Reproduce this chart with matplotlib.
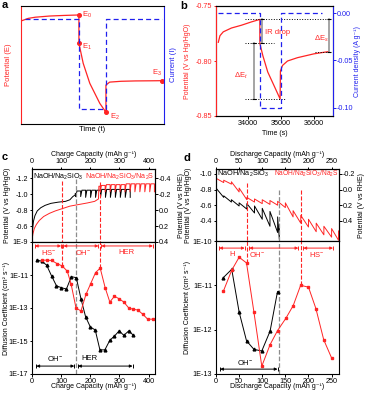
import math
import matplotlib.pyplot as plt
from matplotlib.ticker import FormatStrFormatter

plt.rcParams['font.family'] = ['Liberation Sans', 'DejaVu Sans']
plt.rcParams['mathtext.fontset'] = 'custom'
plt.rcParams['mathtext.rm'] = 'Liberation Sans'
plt.rcParams['mathtext.it'] = 'Liberation Sans:italic'
plt.rcParams['font.size'] = 5.0
plt.rcParams['axes.linewidth'] = 0.8
for ax_ in ('xtick', 'ytick'):
    plt.rcParams[ax_ + '.major.size'] = 1.8
    plt.rcParams[ax_ + '.major.width'] = 0.7
    plt.rcParams[ax_ + '.major.pad'] = 0.8
    plt.rcParams[ax_ + '.labelsize'] = 5.2

W, H = 367, 394
RED = '#FF2424'
BLUE = '#2020EE'
GRAY = '#8C8C8C'

# ---- panel a (schematic) ----
a_t = [0.05, 0.5, 1.0, 2.0, 3.0, 4.05, 4.05, 4.35, 4.81, 5.51, 5.94, 5.94, 6.2, 7.0, 8.0, 9.0, 9.84]
a_E = [8.75, 8.95, 9.05, 9.15, 9.2, 9.24, 6.84, 5.14, 3.45, 1.75, 0.99, 3.3, 3.55, 3.62, 3.65, 3.66, 3.67]
a_pt_t = [4.05, 4.05, 5.94, 9.84]
a_pt_E = [9.24, 6.84, 0.99, 3.67]
a_pt_lab = ['E$_0$', 'E$_1$', 'E$_2$', 'E$_3$']
a_I_t = [0.28, 4.05, 4.05, 5.94, 5.94, 9.84]
a_I = [8.87, 8.87, 1.25, 1.25, 8.87, 8.87]

# ---- panel b (one GITT step) ----
b_t = [33100, 33150, 33250, 33500, 33800, 34100, 34360, 34360, 34450, 34600, 34800, 34975,
       34985, 35050, 35200, 35500, 36000, 36430]
b_E = [-0.783, -0.777, -0.7735, -0.770, -0.7675, -0.7645, -0.7622, -0.784, -0.795, -0.810, -0.823, -0.8345,
       -0.809, -0.804, -0.800, -0.797, -0.7935, -0.7915]
b_It = [33100, 34350, 34350, 34990, 34990, 36240]
b_I = [0.0, 0.0, -0.1, -0.1, 0.0, 0.0]

# ---- panel c: charge GITT ----
cb_q0 = [0, 2, 5, 10, 18, 30, 45, 65, 90, 115, 130, 140, 148]
cb_E0 = [-0.43, -0.56, -0.66, -0.73, -0.79, -0.83, -0.86, -0.885, -0.9, -0.91, -0.93, -0.97, -0.99]
cb_q = [150, 167, 184, 201, 218, 235, 252, 269, 286, 303, 320, 337]
cb_top = [-1.01, -1.04, -1.05, -1.05, -1.05, -1.05, -1.06, -1.06, -1.06, -1.06, -1.06, -1.06]
cb_rest = [-0.97, -0.97, -0.96, -0.96, -0.96, -0.96, -0.96, -0.96, -0.96, -0.96, -0.96, -0.96]

cr_q0 = [0, 3, 8, 15, 25, 40, 60, 80, 105, 130, 160, 190, 215, 228]
cr_E0 = [-0.42, -0.5, -0.57, -0.62, -0.67, -0.72, -0.76, -0.79, -0.82, -0.85, -0.87, -0.89, -0.91, -0.94]
cr_q = [234, 251, 268, 285, 302, 319, 336, 353, 370, 387, 404, 420]
cr_top = [-1.10, -1.11, -1.12, -1.12, -1.12, -1.12, -1.13, -1.13, -1.13, -1.13, -1.13, -1.13]
cr_rest = [-1.03, -1.03, -1.03, -1.03, -1.03, -1.03, -1.03, -1.03, -1.03, -1.03, -1.03, -1.03]

cDb_q = [16, 33, 50, 67, 84, 101, 118, 135, 152, 168, 184, 200, 217, 233, 250, 267, 283, 299, 315, 332, 348]
cDb = [8.0e-11, 6.9e-11, 4.0e-11, 8.9e-12, 2.2e-12, 1.7e-12, 1.4e-12, 7.9e-12, 6.9e-12, 3.6e-13, 2.9e-14,
       7.2e-15, 4.6e-15, 2.9e-16, 2.9e-16, 1.1e-15, 2.0e-15, 4.1e-15, 2.2e-15, 4.1e-15, 2.2e-15]
cDr_q = [35, 50, 67, 87, 104, 121, 134, 151, 168, 185, 201, 218, 234, 251, 267, 283, 299, 315, 332, 348,
         363, 380, 397, 414]
cDr = [7.9e-11, 7.9e-11, 7.6e-11, 4.8e-11, 3.5e-11, 1.7e-11, 2.9e-12, 1.0e-13, 6.6e-14, 6.6e-13, 2.9e-12,
       1.4e-11, 2.6e-11, 1.7e-12, 2.3e-13, 5.2e-13, 3.6e-13, 2.3e-13, 1.0e-13, 8.3e-14, 7.6e-14, 4.2e-14,
       2.1e-14, 2.1e-14]

# ---- panel d: discharge GITT ----
db_q = [16.7, 33.3, 50, 66.7, 83.3, 100, 116.7, 133.3, 137]
db_end = [-0.70, -0.64, -0.59, -0.55, -0.50, -0.42, -0.33, -0.25, -0.16]
db_rest = [-0.72, -0.67, -0.63, -0.62, -0.59, -0.56, -0.52, -0.45, -0.35]
dr_q = [16.7, 33.3, 50, 66.7, 83.3, 100, 116.7, 133.3, 150, 166.7, 183.3, 200, 216.7, 233.3, 250, 265]
dr_end = [-0.89, -0.87, -0.77, -0.67, -0.64, -0.62, -0.61, -0.60, -0.57, -0.45, -0.37, -0.32, -0.26,
          -0.22, -0.19, -0.15]
dr_rest = [-0.92, -0.90, -0.82, -0.70, -0.68, -0.67, -0.66, -0.65, -0.63, -0.53, -0.47, -0.42, -0.37,
           -0.33, -0.30, -0.27]

dDb_q = [16, 34, 50, 66, 82, 99, 117, 133]
dDb = [1.5e-11, 2.3e-11, 2.5e-12, 5.6e-13, 3.6e-13, 3.3e-13, 9.3e-13, 7.2e-12]
dDr_q = [16, 34, 50, 66, 82, 99, 117, 133, 151, 167, 183, 200, 216, 233, 250]
dDr = [7.4e-12, 2.2e-11, 4.3e-11, 3.2e-11, 2.5e-12, 1.5e-13, 4.6e-13, 9.5e-13, 1.8e-12, 3.5e-12, 1.0e-11,
       9.1e-12, 3.0e-12, 5.9e-13, 2.3e-13]


def box(l, t, r, b):
    return [l / W, 1 - b / H, (r - l) / W, (b - t) / H]


def charge_path(q0, e0, q_step, e_top, e_rest):
    qs, es = list(q0), list(e0)
    for q, top, rest in zip(q_step, e_top, e_rest):
        qp = qs[-1]
        qs += [qp + 0.25 * (q - qp), q, q]
        es += [top, top, rest]
    return qs, es


def discharge_path(q_step, e_end, e_rest, e_start):
    qs, es = [0], [e_start]
    for q, end, rest in zip(q_step, e_end, e_rest):
        qs += [q, q]
        es += [end, rest]
    return qs, es


def span_arrow(ax, x0, x1, y, color):
    ax.annotate('', xy=(x1, y), xytext=(x0, y),
                arrowprops=dict(arrowstyle='<|-|>', color=color, lw=0.7, mutation_scale=4,
                                shrinkA=0, shrinkB=0))
    ax.plot([x0, x1], [y, y], '|', color=color, ms=2.5, mew=0.7)


fig = plt.figure(figsize=(W / 100, H / 100), dpi=100)

# ================= a =================
ax = fig.add_axes(box(21, 6, 164, 124))
ax.plot(a_t, a_E, color=RED, lw=0.9)
ax.plot(a_pt_t, a_pt_E, 'o', color=RED, ms=2.6)
ax.plot(a_I_t, a_I, '--', color=BLUE, lw=0.9, dashes=(4, 2.5))
offs = [(0.25, 0.0), (0.25, -0.3), (0.25, -0.35), (-0.3, 0.7)]
for t, e, lab, (dx, dy) in zip(a_pt_t, a_pt_E, a_pt_lab, offs):
    ax.text(t + dx, e + dy, lab, color=RED, fontsize=5.5, ha='left' if dx > 0 else 'center', va='center')
ax.set_xlim(0, 10)
ax.set_ylim(0, 10)
ax.set_xticks([])
ax.set_yticks([])
ax.spines['left'].set_color(RED)
ax.spines['right'].set_color(BLUE)
ax.set_xlabel('Time (t)', fontsize=5.5)
ax.xaxis.set_label_coords(0.5, -0.017)
ax.set_ylabel('Potential (E)', color=RED, fontsize=5.5)
ax.yaxis.set_label_coords(-0.06, 0.5)
ax.text(1.063, 0.5, 'Current (I)', color=BLUE, fontsize=5.5, rotation=90, ha='center', va='center',
        transform=ax.transAxes)
fig.text(5 / W, 1 - 5 / H, 'a', fontsize=8, fontweight='bold', va='center', ha='center')

# ================= b =================
axb = fig.add_axes(box(216, 6, 333, 116))
axb.plot(b_t, b_E, color=RED, lw=0.9)
axb.set_xlim(33030, 36580)
axb.set_ylim(-0.85, -0.75)
axb.set_yticks([-0.85, -0.80, -0.75])
axb.yaxis.set_major_formatter(FormatStrFormatter('%.2f'))
axb.set_xticks([34000, 35000, 36000])
axb.tick_params(axis='y', colors=RED)
axb.set_ylabel('Potential (V vs Hg/HgO)', color=RED)
axb.yaxis.set_label_coords(-0.215, 0.5)
axb.set_xlabel('Time (s)')
axb.xaxis.set_label_coords(0.5, -0.123)
axb.hlines(-0.762, 33900, 36480, colors='k', linestyles=':', lw=0.7)
axb.hlines(-0.784, 33900, 34780, colors='k', linestyles=':', lw=0.7)
axb.hlines(-0.8345, 33900, 35150, colors='k', linestyles=':', lw=0.7)
axb.hlines(-0.7915, 36030, 36480, colors='k', linestyles=':', lw=0.7)
for t, e0, e1 in [(34430, -0.762, -0.784), (34180, -0.784, -0.8345), (36455, -0.762, -0.7915)]:
    axb.plot([t, t], [e0, e1], color=GRAY, lw=1.1)
    axb.plot([t, t], [e0, e1], '_', color='k', ms=2.5, mew=0.8)
axb.text(34520, -0.7737, 'IR drop', color=RED, fontsize=5.5, va='center')
axb.text(33790, -0.8136, r'$\Delta$E$_t$', color=RED, fontsize=5.5, va='center', ha='center')
axb.text(36230, -0.780, r'$\Delta$E$_s$', color=RED, fontsize=5.5, va='center', ha='center')
axb2 = axb.twinx()
axb2.plot(b_It, b_I, '--', color=BLUE, lw=0.9, dashes=(4, 2.5))
axb2.set_ylim(-0.1088, 0.0077)
axb2.set_yticks([-0.10, -0.05, 0.00])
axb2.yaxis.set_major_formatter(FormatStrFormatter('%.2f'))
axb2.tick_params(axis='y', colors=BLUE)
axb2.spines['right'].set_color(BLUE)
axb2.spines['left'].set_color(RED)
axb2.set_ylabel('Current density (A g⁻¹)', color=BLUE)
axb2.yaxis.set_label_coords(1.18, 0.5)
fig.text(184 / W, 1 - 6 / H, 'b', fontsize=8, fontweight='bold', va='center', ha='center')


def gitt_pair(l, r, mid, xmax, xlabel, ylim_top, ylim_bot, ytk, rtk, dlim, dticks, lx, rx):
    a1 = fig.add_axes(box(l, 169, r, mid))
    a2 = fig.add_axes(box(l, mid, r, 374))
    a1.set_xlim(0, xmax)
    a2.set_xlim(0, xmax)
    a1.set_ylim(ylim_bot, ylim_top)
    a1.set_yticks(ytk)
    a1.yaxis.set_major_formatter(FormatStrFormatter('%.1f'))
    a1.xaxis.tick_top()
    a1.xaxis.set_label_position('top')
    a1.set_xlabel(xlabel, fontsize=5.0)
    a1.xaxis.set_label_coords(0.5, 1 + 12.5 / (mid - 169))
    a1.set_ylabel('Potential (V vs Hg/HgO)')
    a1.yaxis.set_label_coords(lx, 0.5)
    a1r = a1.twinx()
    a1r.set_ylim(ylim_bot + 0.8, ylim_top + 0.8)
    a1r.set_yticks(rtk)
    a1r.yaxis.set_major_formatter(FormatStrFormatter('%.1f'))
    a1r.set_ylabel('Potential (V vs RHE)')
    a1r.yaxis.set_label_coords(rx, 0.5)
    a2.set_yscale('log')
    a2.set_ylim(*dlim)
    a2.set_yticks(dticks)
    a2.set_yticklabels(['1E%d' % round(math.log10(v)) for v in dticks])
    a2.minorticks_off()
    a2.set_xlabel(xlabel, fontsize=5.0)
    a2.xaxis.set_label_coords(0.5, -9.5 / (374 - mid))
    a2.set_ylabel('Diffusion Coefficient (cm² s⁻¹)')
    a2.yaxis.set_label_coords(lx - 0.006, 0.5)
    return a1, a2


# ================= c =================
c1, c2 = gitt_pair(32, 155, 242, 422, 'Charge Capacity (mAh g⁻¹)', -1.316, -0.40,
                   [-1.2, -1.0, -0.8, -0.6], [-0.4, -0.2, 0.0, 0.2, 0.4],
                   (1e-17, 1e-9), [1e-17, 1e-15, 1e-13, 1e-11, 1e-9], -0.171, 1.183)
c1.set_xticks([0, 100, 200, 300, 400])
c2.set_xticks([0, 100, 200, 300, 400])
q, e = charge_path(cb_q0, cb_E0, cb_q, cb_top, cb_rest)
c1.plot(q, e, color='k', lw=0.7)
q, e = charge_path(cr_q0, cr_E0, cr_q, cr_top, cr_rest)
c1.plot(q, e, color=RED, lw=0.7)
c1.text(3, -1.215, 'NaOH/Na$_2$SiO$_3$', color='k', fontsize=5.1, va='center', ha='left')
c1.text(419, -1.215, 'NaOH/Na$_2$SiO$_3$/Na$_2$S', color=RED, fontsize=5.1, va='center', ha='right')
c1.vlines(104, -1.17, -0.40, colors=RED, linestyles='--', lw=0.8)
c1.vlines(152, -1.19, -0.40, colors=GRAY, linestyles='--', lw=0.9)
c1.vlines(233, -1.15, -0.40, colors=RED, linestyles='--', lw=0.8)
c2.vlines(104, cDr[4], 1e-9, colors=RED, linestyles='--', lw=0.8)
c2.vlines(152, 1e-17, 1e-9, colors=GRAY, linestyles='--', lw=0.9)
c2.vlines(234, cDr[12], 1e-9, colors=RED, linestyles='--', lw=0.8)
c2.plot(cDb_q, cDb, '-^', color='k', lw=0.7, ms=2.0)
c2.plot(cDr_q, cDr, '-s', color=RED, lw=0.7, ms=1.9)
ya, yt = 10 ** -9.24, 10 ** -9.62
span_arrow(c2, 10, 100, ya, RED)
span_arrow(c2, 108, 228, ya, RED)
span_arrow(c2, 238, 415, ya, RED)
c2.text(56, yt, 'HS$^{-}$', color=RED, fontsize=5.5, ha='center', va='center')
c2.text(175, yt, 'OH$^{-}$', color=RED, fontsize=5.5, ha='center', va='center')
c2.text(323, yt, 'HER', color=RED, fontsize=5.5, ha='center', va='center')
yb, ybt = 10 ** -16.52, 10 ** -16.05
span_arrow(c2, 15, 145, yb, 'k')
span_arrow(c2, 158, 345, yb, 'k')
c2.text(79, ybt, 'OH$^{-}$', color='k', fontsize=5.5, ha='center', va='center')
c2.text(196, ybt, 'HER', color='k', fontsize=5.5, ha='center', va='center')
fig.text(5 / W, 1 - 157 / H, 'c', fontsize=8, fontweight='bold', va='center', ha='center')

# ================= d =================
d1, d2 = gitt_pair(216, 339, 241, 266, 'Discharge Capacity (mAh g⁻¹)', -1.064, -0.141,
                   [-1.0, -0.8, -0.6, -0.4], [-0.2, 0.0, 0.2, 0.4],
                   (1e-13, 1e-10), [1e-13, 1e-12, 1e-11, 1e-10], -0.195, 1.154)
d1.set_xticks([0, 50, 100, 150, 200, 250])
d2.set_xticks([0, 50, 100, 150, 200, 250])
q, e = discharge_path(db_q, db_end, db_rest, -0.82)
d1.plot(q, e, color='k', lw=0.7)
q, e = discharge_path(dr_q, dr_end, dr_rest, -0.945)
d1.plot(q, e, color=RED, lw=0.7)
d1.text(2, -1.0, 'NaOH/Na$_2$SiO$_3$', color='k', fontsize=5.3, va='center', ha='left')
d1.text(265, -1.0, 'NaOH/Na$_2$SiO$_3$/Na$_2$S', color=RED, fontsize=4.8, va='center', ha='right')
d1.vlines(66, -0.88, -0.141, colors=RED, linestyles='--', lw=0.8)
d1.vlines(137, -0.80, -0.141, colors=GRAY, linestyles='--', lw=0.9)
d1.vlines(183, -0.80, -0.141, colors=RED, linestyles='--', lw=0.8)
d2.vlines(66, dDr[3], 1e-10, colors=RED, linestyles='--', lw=0.8)
d2.vlines(137, 1e-13, 1e-10, colors=GRAY, linestyles='--', lw=0.9)
d2.vlines(183, dDr[10], 1e-10, colors=RED, linestyles='--', lw=0.8)
d2.plot(dDb_q, dDb, '-^', color='k', lw=0.7, ms=2.0)
d2.plot(dDr_q, dDr, '-s', color=RED, lw=0.7, ms=1.9)
ya, yt = 10 ** -10.16, 10 ** -10.3
span_arrow(d2, 7, 62, ya, RED)
span_arrow(d2, 72, 178, ya, RED)
span_arrow(d2, 189, 253, ya, RED)
d2.text(35, yt, 'H', color=RED, fontsize=5.5, ha='center', va='center')
d2.text(88, yt, 'OH$^{-}$', color=RED, fontsize=5.5, ha='center', va='center')
d2.text(218, yt, 'HS$^{-}$', color=RED, fontsize=5.5, ha='center', va='center')
span_arrow(d2, 9, 133, 10 ** -12.89, 'k')
d2.text(63, 10 ** -12.74, 'OH$^{-}$', color='k', fontsize=5.5, ha='center', va='center')
fig.text(187 / W, 1 - 158 / H, 'd', fontsize=8, fontweight='bold', va='center', ha='center')

fig.savefig('out.png', dpi=100)
